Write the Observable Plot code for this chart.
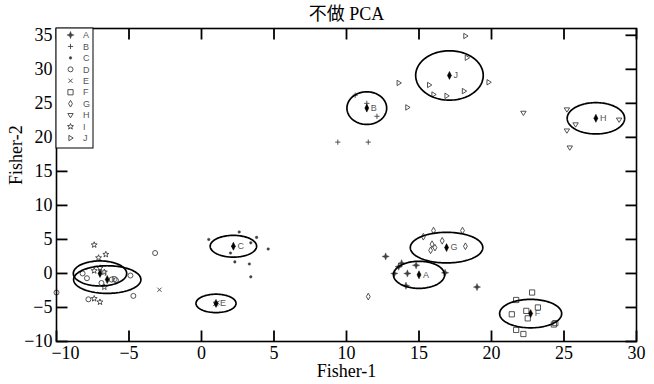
<!DOCTYPE html>
<html><head><meta charset="utf-8">
<script src="https://cdn.jsdelivr.net/npm/d3@7"></script>
<script src="https://cdn.jsdelivr.net/npm/@observablehq/plot@0.6"></script>
<style>body{margin:0;background:#fff} #wrap{position:relative;width:654px;height:384px}</style>
</head><body><div id="wrap"></div>
<script>
const title = "不做 PCA";
const xLabel = "Fisher-1";
const yLabel = "Fisher-2";
const xTicks = [-10, -5, 0, 5, 10, 15, 20, 25, 30];
const yTicks = [-10, -5, 0, 5, 10, 15, 20, 25, 30, 35];
const classes = ["A","B","C","D","E","F","G","H","I","J"];

const ptsA = [[12.7,2.5],[13.8,1.5],[13.6,1.0],[14.8,1.2],[13.3,0.0],[14.2,0.0],[16.8,0.1],[14.1,-1.8],[19.0,-2.0]];
const ptsB = [[10.6,26.2],[11.4,25.0],[12.1,23.1],[9.4,19.3],[11.5,19.3]];
const ptsC = [[0.5,5.0],[2.6,6.1],[3.8,5.3],[3.4,4.5],[4.6,3.6],[2.0,3.0],[2.3,1.7],[3.3,1.4],[3.4,-0.5]];
const ptsD = [[-8.2,0.0],[-7.9,-0.7],[-6.9,-1.4],[-6.2,-0.9],[-5.9,-1.0],[-4.9,-0.3],[-4.7,-3.3],[-3.2,3.0],[-7.8,-3.8],[-10.0,-2.8]];
const ptsE = [[1.0,-4.4],[1.1,-4.3],[0.95,-4.5],[-2.9,-2.4]];
const ptsF = [[22.8,-2.8],[21.7,-3.9],[23.2,-5.0],[21.4,-6.0],[22.4,-5.5],[22.5,-6.6],[21.7,-8.3],[22.2,-8.9],[24.3,-7.5],[24.4,-7.3]];
const ptsG = [[16.0,6.3],[15.3,5.4],[16.6,4.8],[15.9,4.3],[15.8,3.4],[16.1,3.8],[18.2,4.0],[18.0,6.3],[11.5,-3.4]];
const ptsH = [[22.2,23.6],[25.2,24.1],[25.8,21.9],[25.2,21.0],[25.4,18.5],[28.8,22.6]];
const ptsI = [[-7.4,4.2],[-6.6,2.8],[-7.1,2.3],[-7.0,0.8],[-7.4,0.4],[-6.7,0.2],[-7.4,-3.7],[-7.0,-4.2],[-6.7,-2.0]];
const ptsJ = [[18.2,34.9],[18.3,31.7],[15.7,27.7],[16.0,26.3],[16.9,26.1],[18.1,26.8],[19.8,28.1],[13.6,28.0],[14.2,24.4]];
const points = [ptsA, ptsB, ptsC, ptsD, ptsE, ptsF, ptsG, ptsH, ptsI, ptsJ];

const centerX = [15.0, 11.4, 2.2, -6.5, 1.0, 22.7, 16.9, 27.2, -7.0, 17.1];
const centerY = [-0.2, 24.3, 4.0, -0.9, -4.4, -5.9, 3.8, 22.8, 0.0, 29.1];
const radiusX = [1.76, 1.37, 1.6, 2.32, 1.38, 2.14, 2.5, 1.98, 1.84, 2.33];
const radiusY = [1.99, 2.4, 1.6, 2.03, 1.35, 2.09, 2.25, 2.3, 1.84, 3.63];

const xDomain = [-10, 30];
const yDomain = [-10, 36];

const W = 654, H = 384, mL = 56, mR = 18, mT = 28, mB = 43, TICKLEN = 11;

// custom symbols
const R = s => Math.sqrt(s / Math.PI);
const star4 = {draw(c, s){const r=R(s)*1.3,w=r*0.28;c.moveTo(0,-r);c.lineTo(w,-w);c.lineTo(r,0);c.lineTo(w,w);c.lineTo(0,r);c.lineTo(-w,w);c.lineTo(-r,0);c.lineTo(-w,-w);c.closePath();}};
const plusS = {draw(c, s){const r=R(s);c.moveTo(-r,0);c.lineTo(r,0);c.moveTo(0,-r);c.lineTo(0,r);}};
const timesS = {draw(c, s){const r=R(s)*0.75;c.moveTo(-r,-r);c.lineTo(r,r);c.moveTo(r,-r);c.lineTo(-r,r);}};
const circleS = {draw(c, s){const r=R(s);c.moveTo(r,0);c.arc(0,0,r,0,2*Math.PI);}};
const squareS = {draw(c, s){const r=R(s)*0.9;c.rect(-r,-r,2*r,2*r);}};
const diamondS = {draw(c, s){const r=R(s);c.moveTo(0,-r*1.4);c.lineTo(r*0.8,0);c.lineTo(0,r*1.4);c.lineTo(-r*0.8,0);c.closePath();}};
const triDown = {draw(c, s){const r=R(s);c.moveTo(-r,-r*0.6);c.lineTo(r,-r*0.6);c.lineTo(0,r);c.closePath();}};
const triRight = {draw(c, s){const r=R(s);c.moveTo(-r*0.6,-r);c.lineTo(r,0);c.lineTo(-r*0.6,r);c.closePath();}};
const starS = {draw(c, s){const r=R(s)*1.2,ri=r*0.42;for(let k=0;k<10;k++){const a=-Math.PI/2+k*Math.PI/5,rr=k%2?ri:r;const x=rr*Math.cos(a),y=rr*Math.sin(a);k?c.lineTo(x,y):c.moveTo(x,y);}c.closePath();}};
const dotS = {draw(c, s){const r=R(s);c.moveTo(r,0);c.arc(0,0,r,0,2*Math.PI);}};
const centroidS = {draw(c, s){const r=R(s);c.moveTo(0,-r*2);c.lineTo(r,0);c.lineTo(0,r*2);c.lineTo(-r,0);c.closePath();}};

const symbols = [star4, plusS, dotS, circleS, timesS, squareS, diamondS, triDown, starS, triRight];
const filled = [true, false, true, false, false, false, false, false, false, false];
const sizes = [2.8, 2.6, 1.3, 2.5, 2.8, 2.9, 2.4, 2.7, 2.6, 2.7];
const ink = "#404040";

const pointMarks = points.map((pts, i) => Plot.dot(pts, {
  x: d => d[0], y: d => d[1], symbol: symbols[i], r: sizes[i],
  fill: filled[i] ? ink : "none", stroke: ink, strokeWidth: filled[i] ? 0.4 : 0.9
}));

const ellipseData = [];
classes.forEach((c, i) => {
  d3.range(0, 121).forEach(k => {
    const t = k / 120 * 2 * Math.PI;
    ellipseData.push({c, x: centerX[i] + radiusX[i] * Math.cos(t), y: centerY[i] + radiusY[i] * Math.sin(t)});
  });
});
const centers = classes.map((c, i) => ({c, x: centerX[i], y: centerY[i]}));

// tick segments as data in scale units (vertical ticks for x, horizontal ticks for y)
const pxX = (xDomain[1] - xDomain[0]) / (W - mL - mR);
const pxY = (yDomain[1] - yDomain[0]) / (H - mT - mB);
const tickSegs = [];
xTicks.forEach(v => {
  tickSegs.push({x1: v, x2: v, y1: yDomain[0], y2: yDomain[0] + TICKLEN * pxY});
  tickSegs.push({x1: v, x2: v, y1: yDomain[1], y2: yDomain[1] - TICKLEN * pxY});
});
yTicks.forEach(v => {
  tickSegs.push({x1: xDomain[0], x2: xDomain[0] + TICKLEN * pxX, y1: v, y2: v});
  tickSegs.push({x1: xDomain[1], x2: xDomain[1] - TICKLEN * pxX, y1: v, y2: v});
});

const serif = "'Liberation Serif', 'Times New Roman', serif";
const chart = Plot.plot({
  width: W, height: H,
  marginLeft: mL, marginRight: mR, marginTop: mT, marginBottom: mB,
  x: {domain: xDomain},
  y: {domain: yDomain},
  style: {fontFamily: serif, fontSize: "18px", color: "black", background: "white"},
  marks: [
    ...pointMarks,
    Plot.line(ellipseData, {x: "x", y: "y", z: "c", stroke: "black", strokeWidth: 1.7, curve: "linear"}),
    Plot.link(tickSegs, {x1: "x1", y1: "y1", x2: "x2", y2: "y2", stroke: "#000", strokeWidth: 1.8}),
    Plot.dot(centers, {x: "x", y: "y", symbol: centroidS, r: 2, fill: "black", stroke: "black", strokeWidth: 0.5}),
    Plot.text(centers, {x: "x", y: "y", text: "c", dx: 4, textAnchor: "start", fontSize: 9, fontFamily: "'Liberation Sans', Arial, sans-serif", fill: "#555"}),
    Plot.axisX(xTicks.slice(0, 1), {anchor: "bottom", tickSize: 0, tickPadding: 4.5, dx: 9, label: null, fontSize: 18}),
    Plot.axisX(xTicks.slice(1), {anchor: "bottom", tickSize: 0, tickPadding: 4.5, label: null, fontSize: 18}),
    Plot.axisY(yTicks, {anchor: "left", tickSize: 0, tickPadding: 4, label: null, fontSize: 18}),
    Plot.frame({stroke: "black", strokeWidth: 1.6}),
    Plot.text([title], {frameAnchor: "top", dy: -14, lineAnchor: "middle", fontSize: 18, fontFamily: "'Liberation Serif', 'Noto Sans CJK SC', serif"}),
    Plot.text([xLabel], {frameAnchor: "bottom", dy: 30, lineAnchor: "middle", fontSize: 18}),
    Plot.text([yLabel], {frameAnchor: "left", dx: -40, rotate: -90, lineAnchor: "middle", fontSize: 18})
  ]
});
const wrap = document.getElementById("wrap");
wrap.appendChild(chart);

// legend overlay
const ov = d3.select(wrap).append("svg").attr("width", W).attr("height", H)
  .style("position", "absolute").style("left", "0px").style("top", "0px").style("pointer-events", "none");
ov.append("rect").attr("x", 56).attr("y", 28).attr("width", 37).attr("height", 120)
  .attr("fill", "white").attr("stroke", "black").attr("stroke-width", 1);
classes.forEach((c, i) => {
  const yy = 35 + i * 11.45;
  ov.append("path").attr("transform", `translate(70.5,${yy})`)
    .attr("d", d3.symbol().type(symbols[i]).size(Math.PI * sizes[i] * sizes[i])())
    .attr("fill", filled[i] ? ink : "none").attr("stroke", ink).attr("stroke-width", filled[i] ? 0.4 : 0.9);
  ov.append("text").attr("x", 83).attr("y", yy).attr("dy", "0.35em").text(c)
    .attr("font-size", 9).attr("font-family", "'Liberation Sans', Arial, sans-serif").attr("fill", "#555");
});
</script></body></html>
